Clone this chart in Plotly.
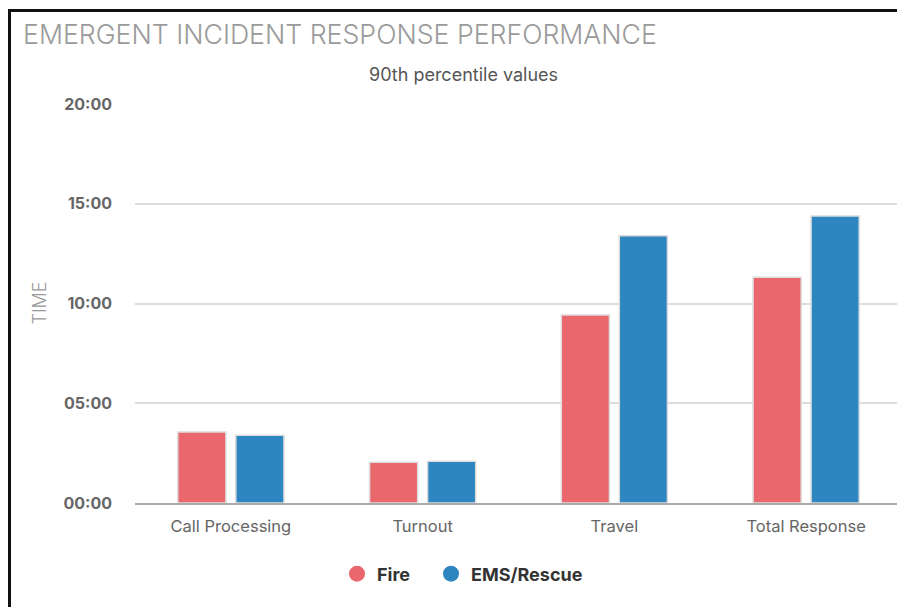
import plotly.graph_objects as go

categories = ["Call Processing", "Turnout", "Travel", "Total Response"]
fire_minutes = [3.56, 2.04, 9.42, 11.31]
ems_minutes = [3.40, 2.09, 13.40, 14.38]
tick_values = [0, 5, 10, 15, 20]
tick_labels = ["00:00", "05:00", "10:00", "15:00", "20:00"]

FIRE = "#EA686D"
EMS = "#2E86C1"
FONT = "Inter"

W, H = 905, 607
L, R, T, B = 127, 11, 95, 112
PW, PH = W - L - R, H - T - B


def px_x(px):
    return (px - L) / PW


def px_y(py):
    return (H - B - py) / PH


fig = go.Figure()
fig.add_trace(go.Bar(x=categories, y=fire_minutes, name="Fire",
                     marker=dict(color=FIRE, line=dict(color="#dddddd", width=1.5)), showlegend=False))
fig.add_trace(go.Bar(x=categories, y=ems_minutes, name="EMS/Rescue",
                     marker=dict(color=EMS, line=dict(color="#dddddd", width=1.5)), showlegend=False))
# legend entries drawn with circle markers
fig.add_trace(go.Scatter(x=[None], y=[None], mode="markers", name="Fire", legend="legend",
                         marker=dict(color=FIRE, size=19, symbol="circle")))
fig.add_trace(go.Scatter(x=[None], y=[None], mode="markers", name="EMS/Rescue", legend="legend2",
                         marker=dict(color=EMS, size=19, symbol="circle")))

legend_font = dict(family=FONT, size=18, color="#333333", weight="bold")

fig.update_layout(
    width=W, height=H,
    margin=dict(l=L, r=R, t=T, b=B),
    paper_bgcolor="white", plot_bgcolor="white",
    font=dict(family=FONT, color="#666666"),
    barmode="group", bargap=0.395, bargroupgap=0.17,
    title=dict(text="EMERGENT INCIDENT RESPONSE PERFORMANCE", x=15 / W, xref="container", xanchor="left",
               y=1 - 27 / H, yref="container", yanchor="middle",
               font=dict(family=FONT, size=26.7, color="#9a9a9a", weight=300)),
    legend=dict(orientation="h", x=329 / W, xref="container", xanchor="left", y=1 - 566 / H, yref="container",
                yanchor="middle", font=legend_font, itemwidth=30),
    legend2=dict(orientation="h", x=423 / W, xref="container", xanchor="left", y=1 - 566 / H, yref="container",
                 yanchor="middle", font=legend_font, itemwidth=30),
    showlegend=True,
    xaxis=dict(showgrid=False, showline=True, linecolor="#aaaaaa", linewidth=2, ticks="",
               tickfont=dict(family=FONT, size=16.5, color="#666666"), ticklabelstandoff=7),
    yaxis=dict(range=[0, 20.05], tickvals=tick_values, ticktext=tick_labels, showgrid=True, gridcolor="#dddddd",
               gridwidth=1.5, zeroline=False, showline=False, ticks="",
               tickfont=dict(family=FONT, size=16, color="#666666", weight="bold"), ticklabelstandoff=22,
               title=dict(text="TIME", font=dict(family=FONT, size=18, color="#9a9a9a", weight=300), standoff=12)),
    annotations=[dict(text="90th percentile values", x=px_x(455), y=px_y(66), xref="paper", yref="paper",
                      showarrow=False, xanchor="center", yanchor="middle",
                      font=dict(family=FONT, size=18, color="#555555"))],
    shapes=[
        dict(type="line", xref="paper", yref="paper", x0=px_x(1.5), x1=px_x(906), y0=px_y(2.5), y1=px_y(2.5),
             line=dict(color="#111111", width=3)),
        dict(type="line", xref="paper", yref="paper", x0=px_x(1.5), x1=px_x(1.5), y0=px_y(1), y1=px_y(608),
             line=dict(color="#111111", width=3)),
    ],
)

fig.write_html("out.html")
